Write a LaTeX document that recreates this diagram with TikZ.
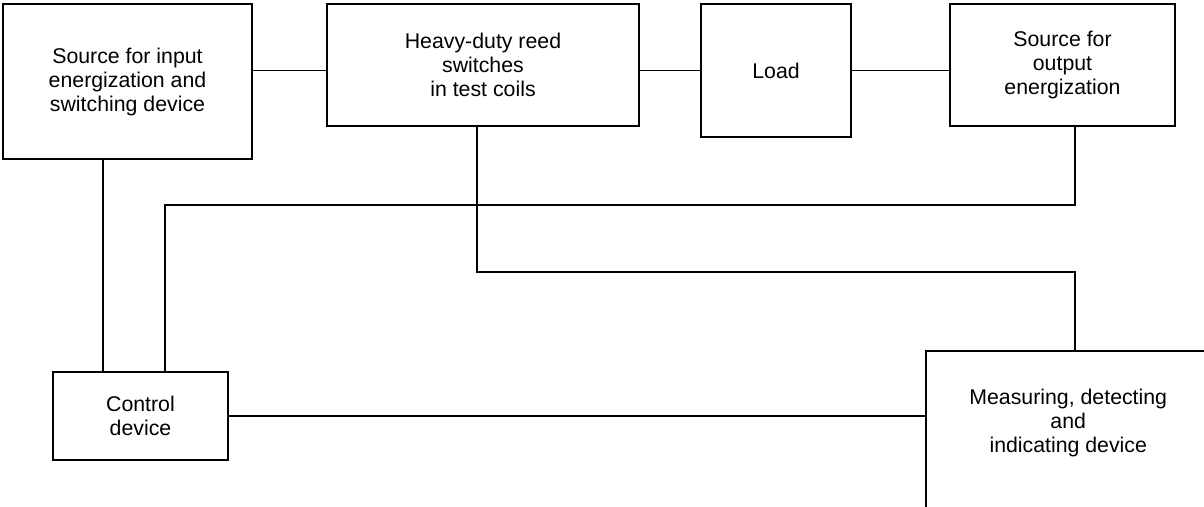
\documentclass[tikz,border=0pt]{standalone}
\usepackage{fontspec}
\setmainfont{Liberation Sans}

\begin{document}
\begin{tikzpicture}[x=1pt, y=-1pt,
    txt/.style={align=center, font=\fontsize{21.3}{24}\selectfont},
    block/.style={txt, draw, line width=1.5pt, inner sep=0pt},
    wire/.style={line width=1.5pt}]
    \clip (0,0) rectangle (1204,506);
    \node[block, minimum width=249, minimum height=155] (srcin) at (127.5,81.5)
        {Source for input\\energization and\\switching device};
    \node[block, minimum width=312, minimum height=122] (reed) at (483,65)
        {Heavy-duty reed\\switches\\in test coils};
    \node[block, minimum width=150, minimum height=133] (load) at (776,70.5) {Load};
    \node[block, minimum width=225, minimum height=122] (srcout) at (1062.5,65)
        {Source for\\output\\energization};
    \node[block, minimum width=175, minimum height=88] (ctrl) at (140.5,416)
        {Control\\device};
    \node[block, minimum width=285, minimum height=170, anchor=north west,
        label={[txt, yshift=13pt]center:Measuring, detecting\\and\\indicating device}]
        (meas) at (925,350) {};
    \coordinate (bendout) at (1075,205);
    \coordinate (bendmeas) at (1075,272);
    \draw[wire] (srcin.east |- load.west) -- (reed.west |- load.west);
    \draw[wire] (reed.east |- load.west) -- (load.west);
    \draw[wire] (load.east) -- (srcout.west |- load.east);
    \draw[wire] ([xshift=-24.5pt]srcin.south) -- ([xshift=-24.5pt]srcin.south |- ctrl.north);
    \draw[wire] ([xshift=24.5pt]ctrl.north) |- (bendout) -- (bendout |- srcout.south);
    \draw[wire] ([xshift=-6pt]reed.south) |- (bendmeas) -- (bendmeas |- meas.north);
    \draw[wire] (ctrl.east) -- (ctrl.east -| meas.west);
\end{tikzpicture}
\end{document}
